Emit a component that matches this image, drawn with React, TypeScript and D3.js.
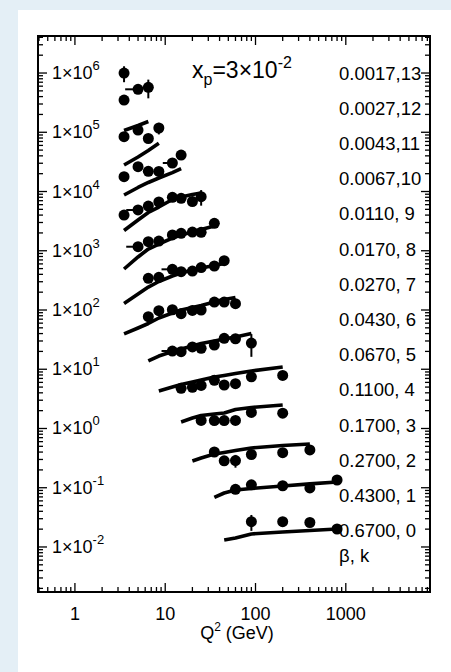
import React from 'react';
import * as d3 from 'd3';

const W = 451;
const H = 672;
const PLOT = { left: 38, top: 36, right: 430, bottom: 592 };

const Q2_DOMAIN: [number, number] = [0.39, 8560];
const F2_DOMAIN: [number, number] = [Math.pow(10, -2.76), Math.pow(10, 6.625)];

const xTickValues = [1, 10, 100, 1000];
const xTickLabels = ['1', '10', '100', '1000'];
const yTickExponents = [6, 5, 4, 3, 2, 1, 0, -1, -2];

const seriesLabels = [
  '0.0017,13', '0.0027,12', '0.0043,11', '0.0067,10', '0.0110, 9', '0.0170, 8', '0.0270, 7',
  '0.0430, 6', '0.0670, 5', '0.1100, 4', '0.1700, 3', '0.2700, 2', '0.4300, 1', '0.6700, 0',
];

// data points: [Q2, value, error, (optional) left segment start Q2]
type P = [number, number, number?, number?];
const pts_k13: P[] = [[3.5, 1.0e6, 0.3e6]];
const pts_k12: P[] = [[3.5, 3.5e5], [5, 5.31e5, 0.8e5, 3.6], [6.5, 5.74e5, 2.0e5]];
const pts_k11: P[] = [[3.5, 8.41e4], [5, 1.09e5], [6.5, 7.85e4], [8.5, 1.18e5, 0.26e5]];
const pts_k10: P[] = [[3.5, 1.78e4], [5, 2.62e4], [6.5, 2.19e4], [8.5, 2.18e4], [12, 3.03e4, undefined, 9.4], [15, 4.13e4]];
const pts_k9: P[] = [[3.5, 4.01e3], [5, 4.88e3, undefined, 3.7], [6.5, 5.69e3], [8.5, 6.65e3], [12, 7.98e3], [15, 7.67e3], [20, 6.78e3], [25, 8.17e3, 2.4e3]];
const pts_k8: P[] = [[5, 1.17e3, undefined, 3.7], [6.5, 1.42e3], [8.5, 1.46e3], [12, 1.85e3], [15, 1.97e3], [20, 2.07e3], [25, 2.05e3], [35, 2.9e3]];
const pts_k7: P[] = [[6.5, 343], [8.5, 356], [12, 486, undefined, 9.1], [15, 443], [20, 455], [25, 521], [35, 553], [45, 679]];
const pts_k6: P[] = [[6.5, 77.1], [8.5, 97.2], [12, 101], [15, 86.7], [20, 98.2], [25, 100], [35, 136], [45, 136], [60, 128]];
const pts_k5: P[] = [[12, 20.3, undefined, 9.1], [15, 19.8], [20, 23.8], [25, 22.6], [35, 25.6], [45, 33.3], [60, 32.7], [90, 27.7, 11.5]];
const pts_k4: P[] = [[15, 4.76], [20, 4.95], [25, 5.32], [35, 6.52], [45, 5.42], [60, 5.7], [90, 7.46], [200, 7.85]];
const pts_k3: P[] = [[25, 1.37], [35, 1.36], [45, 1.36], [60, 1.37], [90, 1.87], [200, 1.81]];
const pts_k2: P[] = [[35, 0.401], [45, 0.285], [60, 0.288, 0.07], [90, 0.364], [200, 0.391], [400, 0.434]];
const pts_k1: P[] = [[60, 0.0942], [90, 0.112], [200, 0.108], [400, 0.0991], [800, 0.135]];
const pts_k0: P[] = [[90, 0.0267, 0.008], [200, 0.0267], [400, 0.0259], [800, 0.0201]];

// theory curves: [Q2, value]
type L = [number, number];
const th_k12: L[] = [[3.5, 1.07e5], [5, 1.3e5], [6.5, 1.52e5]];
const th_k11: L[] = [[3.5, 2.8e4], [5, 3.82e4], [6.5, 4.92e4], [8.5, 6.51e4]];
const th_k10: L[] = [[3.5, 8.73e3], [5, 1.17e4], [6.5, 1.42e4], [8.5, 1.69e4], [12, 2.09e4], [15, 2.44e4]];
const th_k9: L[] = [[3.5, 2.2e3], [5, 3.3e3], [6.5, 4.43e3], [8.5, 5.47e3], [12, 7.33e3], [15, 8.07e3], [20, 8.9e3], [25, 9.44e3]];
const th_k8: L[] = [[3.5, 492], [5, 785], [6.5, 1070], [8.5, 1300], [12, 1640], [15, 1850], [20, 2070], [25, 2280], [35, 2620]];
const th_k7: L[] = [[3.5, 129], [5, 186], [6.5, 244], [8.5, 303], [12, 375], [15, 421], [20, 473], [25, 512], [35, 564], [45, 610]];
const th_k6: L[] = [[3.5, 39.4], [5, 49.7], [6.5, 59.2], [8.5, 73.3], [12, 89], [15, 100], [20, 110], [25, 119], [35, 136], [45, 150], [60, 163]];
const th_k5: L[] = [[6.5, 13.8], [8.5, 16.7], [12, 19.9], [15, 22.0], [20, 24.7], [25, 27.2], [35, 30.0], [45, 32.4], [60, 35.0], [90, 40.1]];
const th_k4: L[] = [[8.5, 4.3], [12, 5.01], [15, 5.53], [20, 6.09], [25, 6.59], [35, 7.4], [45, 7.85], [60, 8.48], [90, 9.34], [200, 10.9]];
const th_k3: L[] = [[15, 1.29], [20, 1.5], [25, 1.66], [35, 1.76], [45, 1.83], [60, 2.09], [90, 2.26], [200, 2.49]];
const th_k2: L[] = [[20, 0.283], [25, 0.318], [35, 0.371], [45, 0.394], [60, 0.425], [90, 0.469], [200, 0.517], [400, 0.547]];
const th_k1: L[] = [[35, 0.0685], [45, 0.0815], [60, 0.0916], [90, 0.0971], [200, 0.107], [400, 0.116], [800, 0.125]];
const th_k0: L[] = [[45, 0.0131], [60, 0.0142], [90, 0.0166], [200, 0.0179], [400, 0.019], [800, 0.0201]];

const allPoints: P[][] = [pts_k13, pts_k12, pts_k11, pts_k10, pts_k9, pts_k8, pts_k7, pts_k6, pts_k5, pts_k4, pts_k3, pts_k2, pts_k1, pts_k0];
const allCurves: L[][] = [th_k12, th_k11, th_k10, th_k9, th_k8, th_k7, th_k6, th_k5, th_k4, th_k3, th_k2, th_k1, th_k0];

const FONT = "'Liberation Sans', Arial, Helvetica, sans-serif";

export default function App() {
  const x = d3.scaleLog().domain(Q2_DOMAIN).range([PLOT.left, PLOT.right]);
  const y = d3.scaleLog().domain(F2_DOMAIN).range([PLOT.bottom, PLOT.top]);
  const line = d3.line<L>().x((d) => x(d[0])).y((d) => y(d[1]));

  const xTicks: { v: number; major: boolean }[] = [];
  for (let e = Math.floor(Math.log10(Q2_DOMAIN[0])); e <= Math.ceil(Math.log10(Q2_DOMAIN[1])); e++) {
    for (let m = 1; m <= 9; m++) {
      const v = m * Math.pow(10, e);
      if (v >= Q2_DOMAIN[0] && v <= Q2_DOMAIN[1]) xTicks.push({ v, major: m === 1 });
    }
  }
  const yTicks: { v: number; major: boolean }[] = [];
  for (let e = Math.floor(Math.log10(F2_DOMAIN[0])); e <= Math.ceil(Math.log10(F2_DOMAIN[1])); e++) {
    for (let m = 1; m <= 9; m++) {
      const v = m * Math.pow(10, e);
      if (v >= F2_DOMAIN[0] && v <= F2_DOMAIN[1]) yTicks.push({ v, major: m === 1 });
    }
  }

  const labelY0 = 73;
  const labelStep = 35.2;

  return (
    <svg
      width={W}
      height={H}
      style={{ position: 'absolute', left: 0, top: 0, display: 'block' }}
      fontFamily={FONT}
    >
      <rect x={0} y={0} width={W} height={H} fill="#e4eff6" />
      <rect x={18} y={10} width={W - 18} height={H - 10} fill="#ffffff" />

      {allCurves.map((c, i) => (
        <path key={'c' + i} d={line(c) || ''} fill="none" stroke="#000" strokeWidth={3.6} strokeLinejoin="round" />
      ))}

      {allPoints.map((s, i) => (
        <g key={'s' + i}>
          {s.map((p, j) => {
            const cx = x(p[0]);
            const cy = y(p[1]);
            const err = p[2];
            return (
              <g key={j}>
                {err !== undefined && (
                  <line x1={cx} x2={cx} y1={y(p[1] + err)} y2={y(Math.max(p[1] - err, F2_DOMAIN[0]))} stroke="#000" strokeWidth={2} />
                )}
                {p[3] !== undefined && (
                  <line x1={x(p[3])} x2={cx} y1={cy} y2={cy} stroke="#000" strokeWidth={2} />
                )}
                <circle cx={cx} cy={cy} r={5.5} fill="#000" />
              </g>
            );
          })}
        </g>
      ))}

      <rect
        x={PLOT.left}
        y={PLOT.top}
        width={PLOT.right - PLOT.left}
        height={PLOT.bottom - PLOT.top}
        fill="none"
        stroke="#000"
        strokeWidth={2}
      />

      {xTicks.map((t, i) => {
        const px = x(t.v);
        const len = t.major ? 9 : 5;
        return (
          <g key={'xt' + i} stroke="#000" strokeWidth={1.3}>
            <line x1={px} x2={px} y1={PLOT.bottom} y2={PLOT.bottom - len} />
            <line x1={px} x2={px} y1={PLOT.top} y2={PLOT.top + len} />
          </g>
        );
      })}
      {yTicks.map((t, i) => {
        const py = y(t.v);
        const len = t.major ? 9 : 5;
        return (
          <g key={'yt' + i} stroke="#000" strokeWidth={1.3}>
            <line x1={PLOT.left} x2={PLOT.left + len} y1={py} y2={py} />
            <line x1={PLOT.right} x2={PLOT.right - len} y1={py} y2={py} />
          </g>
        );
      })}

      {xTickValues.map((v, i) => (
        <text key={'xl' + i} x={x(v)} y={620} textAnchor="middle" fontSize={18} fill="#000">
          {xTickLabels[i]}
        </text>
      ))}
      <text x={237} y={639} textAnchor="middle" fontSize={18} fill="#000">
        Q<tspan fontSize={12} dy={-8}>2</tspan>
        <tspan dy={8}> (GeV)</tspan>
      </text>

      {yTickExponents.map((e) => (
        <text key={'yl' + e} x={52} y={y(Math.pow(10, e)) + 6} fontSize={18} fill="#000">
          1×10<tspan fontSize={13} dy={-9}>{e}</tspan>
        </text>
      ))}

      <text x={192} y={78} fontSize={23} fill="#000">
        x<tspan fontSize={16} dy={7}>p</tspan>
        <tspan dy={-7}>=3×10</tspan>
        <tspan fontSize={16} dy={-10}>-2</tspan>
      </text>

      {seriesLabels.map((s, i) => (
        <text key={'sl' + i} x={339} y={labelY0 + i * labelStep + 6.5} fontSize={18.5} fill="#000">
          {s}
        </text>
      ))}
      <text x={339} y={labelY0 + 14 * labelStep - 4} fontSize={18.5} fill="#000">
        β, k
      </text>
    </svg>
  );
}
